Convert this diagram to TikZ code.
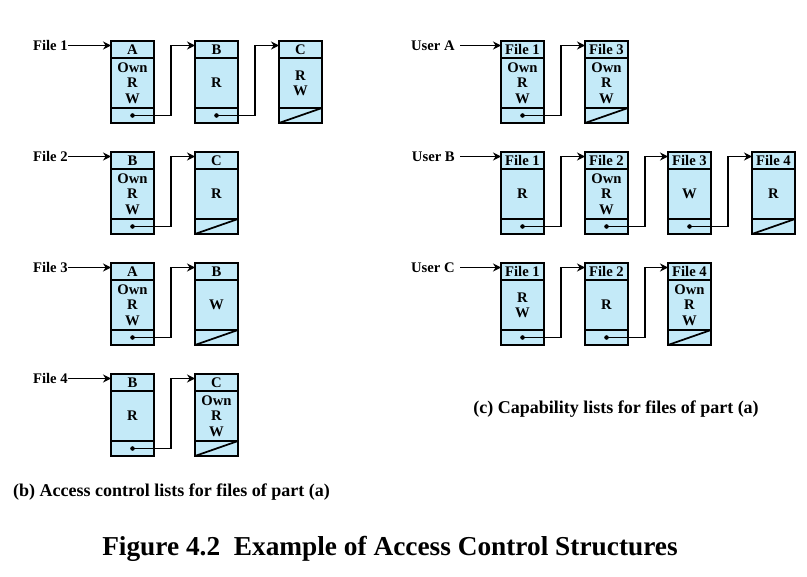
\documentclass[tikz,border=0pt]{standalone}
\usepackage{fontspec}
\setmainfont{Liberation Serif}
\usetikzlibrary{positioning,calc,arrows.meta}
\definecolor{cellblue}{RGB}{196,234,248}

% one list cell: name, left x, top y, header, rights
\newcommand{\cellbox}[5]{%
\node[hdr] (#1h) at (#2+21.5,#3+8.5) {#4};
\node[bdy,below=0pt of #1h] (#1b) {#5};
\node[ptr,below=0pt of #1b] (#1p) {};
}
% pointer from one cell to the next
\newcommand{\cellnext}[2]{%
\fill (#1p.center) circle (1.7pt);
\draw[link] (#1p.center) -- ++(38.5,0) |- ($(#2h.north west)+(0,4.5)$);
}
% end of list
\newcommand{\cellnull}[1]{\draw[line width=1.3pt] (#1p.south west) -- (#1p.north east);}

\begin{document}
\begin{tikzpicture}[x=0.75pt,y=0.75pt,yscale=-1,xscale=1,
  cell/.style={draw,fill=cellblue,line width=1.5pt,minimum width=32.25pt,inner sep=0pt,outer sep=0pt},
  hdr/.style={cell,minimum height=12.75pt,font=\bfseries\fontsize{11}{11}\selectfont},
  bdy/.style={cell,minimum height=37.5pt,align=center,font=\bfseries\fontsize{11}{11.5}\selectfont},
  ptr/.style={cell,minimum height=11.25pt},
  lbl/.style={anchor=east,inner sep=0pt,font=\bfseries\fontsize{11}{11}\selectfont},
  link/.style={line width=1.3pt,-{Stealth[length=6pt,width=6pt]}},
  caption/.style={font=\bfseries\fontsize{13.5}{16}\selectfont}]
\useasboundingbox (0,0) rectangle (807,577);

%Access control lists
\node[lbl] (file1) at (68,45.5) {File 1};
\cellbox{fa}{111}{41}{A}{Own\\R\\W}
\cellbox{fb}{195}{41}{B}{R}
\cellbox{fc}{279}{41}{C}{R\\W}
\draw[link] (file1.east) -- (file1.east -| fah.west);
\cellnext{fa}{fb}
\cellnext{fb}{fc}
\cellnull{fc}

\node[lbl] (file2) at (68,156.5) {File 2};
\cellbox{ga}{111}{152}{B}{Own\\R\\W}
\cellbox{gb}{195}{152}{C}{R}
\draw[link] (file2.east) -- (file2.east -| gah.west);
\cellnext{ga}{gb}
\cellnull{gb}

\node[lbl] (file3) at (68,267.5) {File 3};
\cellbox{ha}{111}{263}{A}{Own\\R\\W}
\cellbox{hb}{195}{263}{B}{W}
\draw[link] (file3.east) -- (file3.east -| hah.west);
\cellnext{ha}{hb}
\cellnull{hb}

\node[lbl] (file4) at (68,378.5) {File 4};
\cellbox{ia}{111}{374}{B}{R}
\cellbox{ib}{195}{374}{C}{Own\\R\\W}
\draw[link] (file4.east) -- (file4.east -| iah.west);
\cellnext{ia}{ib}
\cellnull{ib}

%Capability lists
\node[lbl,inner xsep=3.75pt] (usera) at (460,45.5) {User A};
\cellbox{ua}{501}{41}{File 1}{Own\\R\\W}
\cellbox{ub}{585}{41}{File 3}{Own\\R\\W}
\draw[link] (usera.east) -- (usera.east -| uah.west);
\cellnext{ua}{ub}
\cellnull{ub}

\node[lbl,inner xsep=3.75pt] (userb) at (460,156.5) {User B};
\cellbox{va}{501}{152}{File 1}{R}
\cellbox{vb}{585}{152}{File 2}{Own\\R\\W}
\cellbox{vc}{668}{152}{File 3}{W}
\cellbox{vd}{752}{152}{File 4}{R}
\draw[link] (userb.east) -- (userb.east -| vah.west);
\cellnext{va}{vb}
\cellnext{vb}{vc}
\cellnext{vc}{vd}
\cellnull{vd}

\node[lbl,inner xsep=3.75pt] (userc) at (460,267.5) {User C};
\cellbox{wa}{501}{263}{File 1}{R\\W}
\cellbox{wb}{585}{263}{File 2}{R}
\cellbox{wc}{668}{263}{File 4}{Own\\R\\W}
\draw[link] (userc.east) -- (userc.east -| wah.west);
\cellnext{wa}{wb}
\cellnext{wb}{wc}
\cellnull{wc}

% Captions
\node[caption] (capc) at (616,409) {(c) Capability lists for files of part (a)};
\node[caption] (capb) at (171.5,492) {(b) Access control lists for files of part (a)};
\node[font=\bfseries\fontsize{20.5}{24}\selectfont] (title) at (390,549) {Figure 4.2\ \ Example of Access Control Structures};

\end{tikzpicture}
\end{document}
